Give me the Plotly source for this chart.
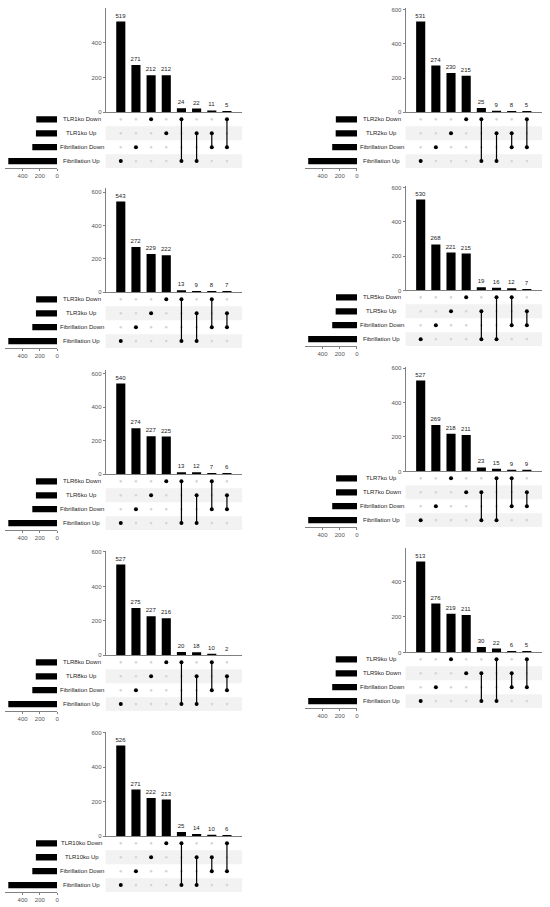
import plotly.graph_objects as go

# set labels are listed top row first; combos use the row index of each member set
sets_tlr1 = ["TLR1ko Down", "TLR1ko Up", "Fibrillation Down", "Fibrillation Up"]
sizes_tlr1 = [241, 245, 287, 565]
counts_tlr1 = [519, 271, 212, 212, 24, 22, 11, 5]
combos_tlr1 = ["3", "2", "0", "1", "03", "13", "12", "02"]

sets_tlr2 = ["TLR2ko Down", "TLR2ko Up", "Fibrillation Down", "Fibrillation Up"]
sizes_tlr2 = [245, 247, 287, 565]
counts_tlr2 = [531, 274, 230, 215, 25, 9, 8, 5]
combos_tlr2 = ["3", "2", "1", "0", "03", "13", "12", "02"]

sets_tlr3 = ["TLR3ko Down", "TLR3ko Up", "Fibrillation Down", "Fibrillation Up"]
sizes_tlr3 = [243, 245, 287, 565]
counts_tlr3 = [543, 272, 229, 222, 13, 9, 8, 7]
combos_tlr3 = ["3", "2", "1", "0", "03", "13", "02", "12"]

sets_tlr5 = ["TLR5ko Down", "TLR5ko Up", "Fibrillation Down", "Fibrillation Up"]
sizes_tlr5 = [243, 247, 287, 565]
counts_tlr5 = [530, 268, 221, 215, 19, 16, 12, 7]
combos_tlr5 = ["3", "2", "1", "0", "13", "03", "02", "12"]

sets_tlr6 = ["TLR6ko Down", "TLR6ko Up", "Fibrillation Down", "Fibrillation Up"]
sizes_tlr6 = [245, 245, 287, 565]
counts_tlr6 = [540, 274, 227, 225, 13, 12, 7, 6]
combos_tlr6 = ["3", "2", "1", "0", "03", "13", "02", "12"]

sets_tlr7 = ["TLR7ko Up", "TLR7ko Down", "Fibrillation Down", "Fibrillation Up"]
sizes_tlr7 = [242, 243, 287, 565]
counts_tlr7 = [527, 269, 218, 211, 23, 15, 9, 9]
combos_tlr7 = ["3", "2", "0", "1", "13", "03", "02", "12"]

sets_tlr8 = ["TLR8ko Down", "TLR8ko Up", "Fibrillation Down", "Fibrillation Up"]
sizes_tlr8 = [246, 247, 287, 565]
counts_tlr8 = [527, 275, 227, 216, 20, 18, 10, 2]
combos_tlr8 = ["3", "2", "1", "0", "03", "13", "02", "12"]

sets_tlr9 = ["TLR9ko Up", "TLR9ko Down", "Fibrillation Down", "Fibrillation Up"]
sizes_tlr9 = [246, 247, 287, 565]
counts_tlr9 = [513, 276, 219, 211, 30, 22, 6, 5]
combos_tlr9 = ["3", "2", "0", "1", "13", "03", "12", "02"]

sets_tlr10 = ["TLR10ko Down", "TLR10ko Up", "Fibrillation Down", "Fibrillation Up"]
sizes_tlr10 = [244, 246, 287, 565]
counts_tlr10 = [526, 271, 222, 213, 25, 14, 10, 6]
combos_tlr10 = ["3", "2", "1", "0", "03", "13", "12", "02"]

panels = [
    (sets_tlr1, sizes_tlr1, counts_tlr1, combos_tlr1),
    (sets_tlr2, sizes_tlr2, counts_tlr2, combos_tlr2),
    (sets_tlr3, sizes_tlr3, counts_tlr3, combos_tlr3),
    (sets_tlr5, sizes_tlr5, counts_tlr5, combos_tlr5),
    (sets_tlr6, sizes_tlr6, counts_tlr6, combos_tlr6),
    (sets_tlr7, sizes_tlr7, counts_tlr7, combos_tlr7),
    (sets_tlr8, sizes_tlr8, counts_tlr8, combos_tlr8),
    (sets_tlr9, sizes_tlr9, counts_tlr9, combos_tlr9),
    (sets_tlr10, sizes_tlr10, counts_tlr10, combos_tlr10),
]

W, H = 550, 907
col_x = [0, 301]
row_y = [[0, 181, 364, 546, 728], [0, 179, 361, 543]]

AX = "#808080"
TICKF = dict(size=6, color="#555555")


def sfx(k):
    return "" if k == 1 else str(k)


def xp(v):
    return v / W


def yp(v):
    return 1 - v / H


fig = go.Figure()
layout = {}
shapes = []
annotations = []

for p, (sets, sizes, counts, combos) in enumerate(panels):
    ox = col_x[p % 2]
    oy = row_y[p % 2][p // 2]
    kb, km, ks = 3 * p + 1, 3 * p + 2, 3 * p + 3
    cols = list(range(len(counts)))
    nrow = len(sets)

    # intersection bars
    fig.add_trace(go.Bar(
        x=cols, y=counts, text=counts, textposition="outside",
        cliponaxis=False, constraintext="none", width=0.6,
        marker=dict(color="black", line=dict(width=0)),
        textfont=dict(size=6, color="#222222"),
        xaxis="x" + sfx(kb), yaxis="y" + sfx(kb), showlegend=False))
    layout["xaxis" + sfx(kb)] = dict(
        domain=[xp(ox + 106), xp(ox + 243)], range=[-1, 8],
        showline=True, linecolor=AX, linewidth=0.8, showticklabels=False,
        ticks="", showgrid=False, zeroline=False, anchor="y" + sfx(kb))
    layout["yaxis" + sfx(kb)] = dict(
        domain=[yp(oy + 111), yp(oy + 6)], range=[0, max(counts) * 1.15],
        tick0=0, dtick=200, showline=True, linecolor=AX, linewidth=0.8,
        ticks="outside", ticklen=2, tickcolor=AX, tickfont=TICKF,
        showgrid=False, zeroline=False, anchor="x" + sfx(kb))

    # matrix of dots
    ex, ey, fx, fy, lx, ly = [], [], [], [], [], []
    for c, combo in zip(cols, combos):
        members = [int(ch) for ch in combo]
        for i in range(nrow):
            if i in members:
                fx.append(c)
                fy.append(nrow - 1 - i)
            else:
                ex.append(c)
                ey.append(nrow - 1 - i)
        if len(members) > 1:
            lx += [c, c, None]
            ly += [nrow - 1 - min(members), nrow - 1 - max(members), None]
    fig.add_trace(go.Scatter(
        x=ex, y=ey, mode="markers", marker=dict(size=2.6, color="#d6d6d6"),
        xaxis="x" + sfx(km), yaxis="y" + sfx(km), showlegend=False))
    fig.add_trace(go.Scatter(
        x=lx, y=ly, mode="lines", line=dict(color="black", width=1.2),
        xaxis="x" + sfx(km), yaxis="y" + sfx(km), showlegend=False))
    fig.add_trace(go.Scatter(
        x=fx, y=fy, mode="markers", marker=dict(size=4, color="black"),
        xaxis="x" + sfx(km), yaxis="y" + sfx(km), showlegend=False))
    layout["xaxis" + sfx(km)] = dict(
        domain=[xp(ox + 106), xp(ox + 243)], range=[-1, 8], visible=False,
        anchor="y" + sfx(km))
    layout["yaxis" + sfx(km)] = dict(
        domain=[yp(oy + 167), yp(oy + 111)], range=[-0.5, nrow - 0.5],
        visible=False, anchor="x" + sfx(km))
    for i in (1, 3):
        shapes.append(dict(
            type="rect", xref="x" + sfx(km) + " domain", yref="y" + sfx(km),
            x0=0, x1=1, y0=nrow - 1 - i - 0.5, y1=nrow - 1 - i + 0.5,
            fillcolor="#f2f2f2", line=dict(width=0), layer="below"))

    # set sizes
    fig.add_trace(go.Bar(
        x=sizes, y=[nrow - 1 - i for i in range(nrow)], orientation="h",
        width=0.45, marker=dict(color="black", line=dict(width=0)),
        xaxis="x" + sfx(ks), yaxis="y" + sfx(ks), showlegend=False))
    layout["xaxis" + sfx(ks)] = dict(
        domain=[xp(ox + 5.3), xp(ox + 57.3)], range=[600, 0],
        tickvals=[0, 200, 400], showline=True, linecolor=AX, linewidth=0.8,
        ticks="outside", ticklen=2, tickcolor=AX, tickfont=TICKF,
        showgrid=False, zeroline=False, anchor="y" + sfx(ks))
    layout["yaxis" + sfx(ks)] = dict(
        domain=[yp(oy + 167), yp(oy + 111)], range=[-0.5, nrow - 0.5],
        visible=False, anchor="x" + sfx(ks))

    for i, name in enumerate(sets):
        annotations.append(dict(
            text=name, xref="paper", yref="y" + sfx(km),
            x=xp(ox + 82), y=nrow - 1 - i, xanchor="center",
            yanchor="middle", showarrow=False,
            font=dict(size=6, color="#222222")))

fig.update_layout(
    width=W, height=H, margin=dict(l=0, r=0, t=0, b=0),
    paper_bgcolor="white", plot_bgcolor="white",
    font=dict(family="Arial, Liberation Sans, sans-serif"),
    shapes=shapes, annotations=annotations, **layout)

# drop the default page margin so the figure sits at the window corner
fig.write_html("out.html", config={"displayModeBar": False},
               post_script="document.body.style.margin='0';")
